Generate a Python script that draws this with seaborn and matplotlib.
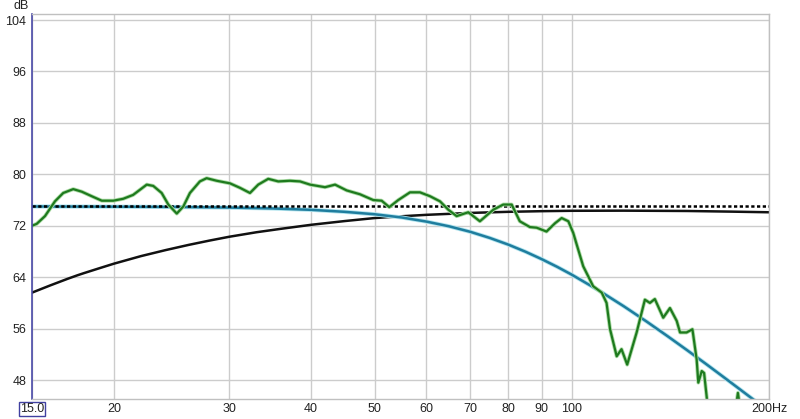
import matplotlib
matplotlib.use("Agg")
import matplotlib.pyplot as plt
import matplotlib.patheffects as pe
import seaborn as sns

# measured response (green)
meas_hz = [15.0, 15.25, 15.7, 16.26, 16.74, 17.34, 17.87, 18.5, 19.17, 19.96, 20.67, 21.4,
           22.45, 22.97, 23.66, 24.22, 24.95, 25.53, 26.13, 27.06, 27.71, 28.71, 30.08, 31.16,
           32.27, 33.22, 34.41, 35.64, 37.13, 38.48, 39.86, 42.01, 43.52, 45.33, 47.5, 49.77,
           51.26, 52.65, 54.34, 56.63, 58.65, 60.75, 62.93, 64.79, 66.72, 69.5, 72.4, 75.9,
           78.6, 80.96, 83.3, 86.3, 88.4, 91.5, 94.3, 96.5, 98.8, 100.5, 104.1, 107.8, 111.1,
           113.0, 114.4, 117.1, 119.1, 121.5, 125.6, 129.3, 131.6, 133.9, 137.9, 141.2, 144.6,
           146.3, 149.7, 152.8, 155.1, 156.0, 157.9, 159.2, 160.7, 162.5, 176.0, 178.6, 179.3,
           180.2, 182.0, 200.0]
meas_db = [72.0, 72.3, 73.5, 75.8, 77.1, 77.7, 77.3, 76.6, 75.9, 75.9, 76.2, 76.8,
           78.4, 78.2, 77.1, 75.3, 73.9, 75.0, 77.1, 78.9, 79.4, 79.0, 78.6, 77.9,
           77.1, 78.4, 79.3, 78.9, 79.0, 78.9, 78.4, 78.0, 78.4, 77.5, 76.9, 76.0,
           75.9, 74.9, 76.0, 77.2, 77.2, 76.6, 75.8, 74.5, 73.5, 74.1, 72.7, 74.5,
           75.3, 75.3, 72.7, 71.8, 71.7, 71.1, 72.4, 73.2, 72.7, 70.9, 65.7, 62.6, 61.6,
           60.0, 55.9, 51.7, 52.8, 50.4, 55.4, 60.5, 60.0, 60.6, 57.7, 59.2, 57.2,
           55.4, 55.4, 55.9, 51.2, 47.6, 49.4, 49.1, 45.3, 40.0, 40.0, 44.8, 46.0,
           44.5, 40.0, 40.0]

# target curve (teal)
target_hz = [15, 20, 25, 30, 35, 40, 45, 50, 55, 60, 65, 70, 75, 80, 85, 90, 95, 100,
             110, 120, 130, 140, 150, 160, 170, 180, 190, 200]
target_db = [75.0, 74.97, 74.92, 74.83, 74.69, 74.48, 74.17, 73.79, 73.29, 72.65, 71.91,
             71.06, 70.10, 69.07, 67.96, 66.80, 65.61, 64.39, 61.93, 59.49, 57.12, 54.83,
             52.64, 50.56, 48.56, 46.66, 44.85, 43.11]

# room / house curve (black)
house_hz = [15, 16, 17, 17.6, 18, 19, 20, 22, 24, 26, 28, 30, 33, 36, 40, 45, 50, 55, 60,
            70, 80, 90, 100, 120, 150, 175, 200]
house_db = [61.6, 62.73, 63.75, 64.3, 64.63, 65.39, 66.1, 67.28, 68.22, 69.02, 69.7, 70.29,
            70.99, 71.53, 72.15, 72.73, 73.2, 73.48, 73.7, 74.0, 74.17, 74.27, 74.33, 74.35,
            74.3, 74.2, 74.1]

# reference level (dotted)
level_hz = [15, 200]
level_db = [75.1, 75.1]

x_ticks = [15, 20, 30, 40, 50, 60, 70, 80, 90, 100, 200]
x_labels = ["15.0", "20", "30", "40", "50", "60", "70", "80", "90", "100", "200Hz"]
y_ticks = [48, 56, 64, 72, 80, 88, 96, 104]

sns.set_theme(style="whitegrid")
plt.rcParams["font.family"] = ["Liberation Sans", "DejaVu Sans"]

fig = plt.figure(figsize=(8, 4.19), dpi=100)
ax = fig.add_axes([0.04, 0.0477, 0.92125, 0.919])

sns.lineplot(x=house_hz, y=house_db, ax=ax, color="#111111", linewidth=1.8, sort=False)
sns.lineplot(x=target_hz, y=target_db, ax=ax, color="#1f7d9e", linewidth=1.8, sort=False,
             path_effects=[pe.Stroke(linewidth=3.0, foreground="#b0e4ee"), pe.Normal()])
sns.lineplot(x=level_hz, y=level_db, ax=ax, color="#000000", linewidth=1.8,
             linestyle=(0, (1.3, 1.0)), sort=False)
sns.lineplot(x=meas_hz, y=meas_db, ax=ax, color="#1e7a1e", linewidth=1.6, sort=False,
             solid_joinstyle="round",
             path_effects=[pe.Stroke(linewidth=2.8, foreground="#acdca6"), pe.Normal()])

ax.set_xscale("log")
ax.set_xlim(15, 200)
ax.set_ylim(45.05, 104.95)
ax.set_xticks(x_ticks)
ax.set_xticklabels(x_labels)
ax.minorticks_off()
ax.set_yticks(y_ticks)
ax.set_xlabel("")
ax.set_ylabel("")
ax.grid(True, color="#cccccc", linewidth=1)
ax.tick_params(axis="both", length=0, labelsize=9, labelcolor="#222222")
ax.tick_params(axis="x", pad=3)
ax.tick_params(axis="y", pad=4)

lab0 = ax.get_xticklabels()[0]
lab0.set_bbox(dict(boxstyle="square,pad=0.1", facecolor="white", edgecolor="#4040a0", linewidth=1))

for side in ["top", "right", "bottom"]:
    ax.spines[side].set_color("#c0c0c0")
    ax.spines[side].set_linewidth(1)
ax.spines["left"].set_color("#4a4aa8")
ax.spines["left"].set_linewidth(1.2)

fig.text(0.027, 0.986, "dB", fontsize=9, color="#222222", ha="center", va="center")

fig.savefig("out.png", dpi=100)
